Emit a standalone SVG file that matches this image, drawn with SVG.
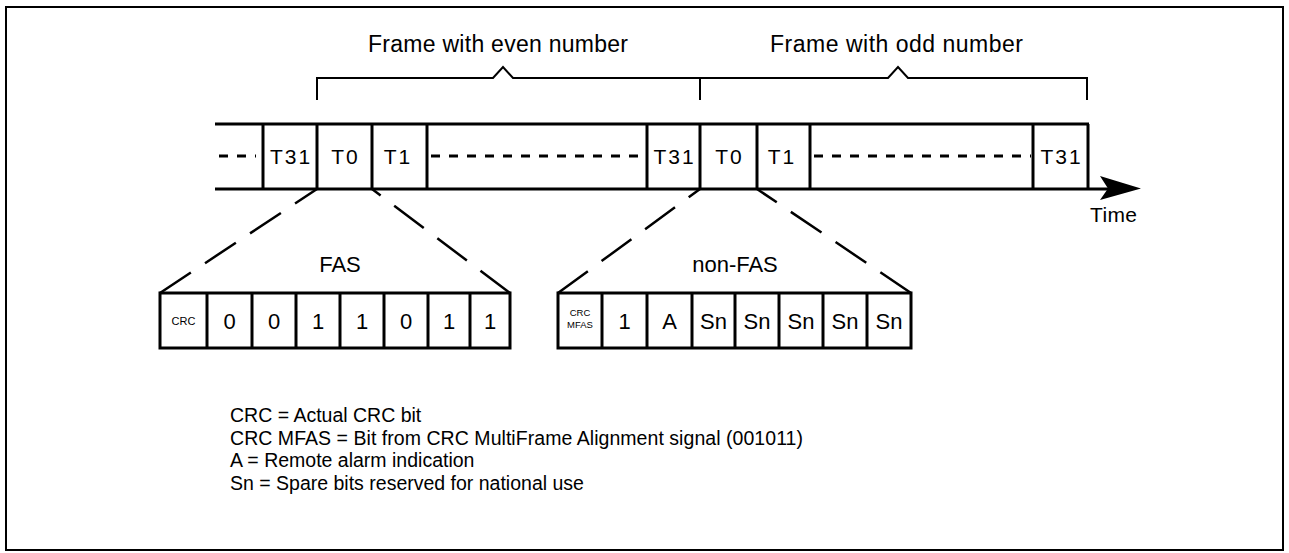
<svg xmlns="http://www.w3.org/2000/svg" width="1289" height="553" viewBox="0 0 1289 553">
  <style>
    text { font-family: "Liberation Sans", Arial, sans-serif; fill: #000; }
    .title { font-size: 23px; }
    .slot { font-size: 21px; text-anchor: middle; letter-spacing: 2px; }
    .bit { font-size: 22px; text-anchor: middle; }
    .tiny { font-size: 10px; text-anchor: middle; }
    .label { font-size: 22px; text-anchor: middle; }
    .legend { font-size: 19.5px; }
    .rail { stroke: #000; stroke-width: 3; fill: none; }
    .cell { stroke: #000; stroke-width: 3; fill: #fff; }
    .div { stroke: #000; stroke-width: 3; }
    .dots { stroke: #000; stroke-width: 3; stroke-dasharray: 9 9; fill: none; }
    .brace { stroke: #000; stroke-width: 2; fill: none; }
    .zoom { stroke: #000; stroke-width: 2.5; stroke-dasharray: 37 17; fill: none; }
  </style>

  <!-- outer frame -->
  <rect x="6" y="7" width="1277" height="543" fill="#fff" stroke="#000" stroke-width="2"/>

  <!-- frame braces with captions -->
  <g id="frame-even">
    <path class="brace" d="M317,100 V78 H493 L503,67 L513,78 H700 V100"/>
    <text class="title" x="368" y="52" textLength="260">Frame with even number</text>
  </g>
  <g id="frame-odd">
    <path class="brace" d="M700,78 H888 L898,67 L908,78 H1087 V100"/>
    <text class="title" x="770" y="52" textLength="253">Frame with odd number</text>
  </g>

  <!-- time slot stream -->
  <g id="stream">
    <line class="rail" x1="215" y1="124" x2="1089" y2="124"/>
    <line class="rail" x1="215" y1="189" x2="1110" y2="189"/>
    <path d="M1100,176 L1141,188.5 L1100,200 L1108,188.5 Z" fill="#000"/>
    <line class="div" x1="263" y1="124" x2="263" y2="189"/>
    <line class="div" x1="317" y1="124" x2="317" y2="189"/>
    <line class="div" x1="372" y1="124" x2="372" y2="189"/>
    <line class="div" x1="427" y1="124" x2="427" y2="189"/>
    <line class="div" x1="647" y1="124" x2="647" y2="189"/>
    <line class="div" x1="700" y1="124" x2="700" y2="189"/>
    <line class="div" x1="757" y1="124" x2="757" y2="189"/>
    <line class="div" x1="810" y1="124" x2="810" y2="189"/>
    <line class="div" x1="1033" y1="124" x2="1033" y2="189"/>
    <line class="div" x1="1088" y1="124" x2="1088" y2="189"/>
    <!-- elided slots -->
    <line class="dots" x1="219" y1="156" x2="256" y2="156" stroke-dasharray="11 9"/>
    <line class="dots" x1="431" y1="156" x2="645" y2="156"/>
    <line class="dots" x1="814" y1="156" x2="1031" y2="156"/>
    <text class="slot" x="291" y="164">T31</text>
    <text class="slot" x="345.5" y="164">T0</text>
    <text class="slot" x="398" y="164">T1</text>
    <text class="slot" x="674.5" y="164">T31</text>
    <text class="slot" x="729.5" y="164">T0</text>
    <text class="slot" x="782" y="164">T1</text>
    <text class="slot" x="1061.5" y="164">T31</text>
    <text style="font-size:21px" x="1090" y="222" textLength="47">Time</text>
  </g>

  <!-- expansion lines from T0 slots to bit fields -->
  <g id="connectors">
    <line class="zoom" x1="160" y1="293" x2="317" y2="189"/>
    <line class="zoom" x1="510" y1="293" x2="372" y2="189"/>
    <line class="zoom" x1="558" y1="293" x2="700" y2="189"/>
    <line class="zoom" x1="911" y1="293" x2="757" y2="189"/>
  </g>

  <!-- FAS bit field -->
  <g id="fas">
    <text class="label" x="340" y="272">FAS</text>
    <rect class="cell" x="160" y="293" width="350" height="55"/>
    <line class="div" x1="207" y1="293" x2="207" y2="348"/>
    <line class="div" x1="252" y1="293" x2="252" y2="348"/>
    <line class="div" x1="296" y1="293" x2="296" y2="348"/>
    <line class="div" x1="340" y1="293" x2="340" y2="348"/>
    <line class="div" x1="384" y1="293" x2="384" y2="348"/>
    <line class="div" x1="428" y1="293" x2="428" y2="348"/>
    <line class="div" x1="470" y1="293" x2="470" y2="348"/>
    <text class="tiny" style="font-size:11px" x="183.5" y="325">CRC</text>
    <text class="bit" x="229.5" y="329">0</text>
    <text class="bit" x="274" y="329">0</text>
    <text class="bit" x="318" y="329">1</text>
    <text class="bit" x="362" y="329">1</text>
    <text class="bit" x="406" y="329">0</text>
    <text class="bit" x="449" y="329">1</text>
    <text class="bit" x="490" y="329">1</text>
  </g>

  <!-- non-FAS bit field -->
  <g id="non-fas">
    <text class="label" x="735" y="272">non-FAS</text>
    <rect class="cell" x="558" y="293" width="353" height="55"/>
    <line class="div" x1="602" y1="293" x2="602" y2="348"/>
    <line class="div" x1="647" y1="293" x2="647" y2="348"/>
    <line class="div" x1="692" y1="293" x2="692" y2="348"/>
    <line class="div" x1="735" y1="293" x2="735" y2="348"/>
    <line class="div" x1="779" y1="293" x2="779" y2="348"/>
    <line class="div" x1="823" y1="293" x2="823" y2="348"/>
    <line class="div" x1="867" y1="293" x2="867" y2="348"/>
    <text class="tiny" style="font-size:9.5px" x="580" y="316">CRC</text>
    <text class="tiny" style="font-size:9.5px" x="580" y="328">MFAS</text>
    <text class="bit" x="624.5" y="329">1</text>
    <text class="bit" x="669.5" y="329">A</text>
    <text class="bit" x="713.5" y="329">Sn</text>
    <text class="bit" x="757" y="329">Sn</text>
    <text class="bit" x="801" y="329">Sn</text>
    <text class="bit" x="845" y="329">Sn</text>
    <text class="bit" x="889" y="329">Sn</text>
  </g>

  <!-- legend -->
  <g id="legend">
    <text class="legend" x="230" y="422">CRC = Actual CRC bit</text>
    <text class="legend" x="230" y="444.5" textLength="573">CRC MFAS = Bit from CRC MultiFrame Alignment signal (001011)</text>
    <text class="legend" x="230" y="467">A = Remote alarm indication</text>
    <text class="legend" x="230" y="489.5">Sn = Spare bits reserved for national use</text>
  </g>
</svg>
